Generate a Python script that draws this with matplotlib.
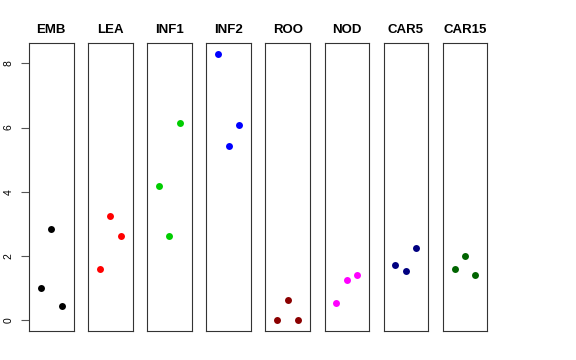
import matplotlib
matplotlib.use("Agg")
import matplotlib.pyplot as plt

plt.rcParams['font.family'] = ['Liberation Sans', 'DejaVu Sans']

groups = ['EMB', 'LEA', 'INF1', 'INF2', 'ROO', 'NOD', 'CAR5', 'CAR15']
colors = ['black', 'red', '#00CD00', 'blue', '#8B0000', 'magenta', '#000080', '#006400']
values = [
    [1.01, 2.84, 0.45],
    [1.59, 3.25, 2.61],
    [4.19, 2.64, 6.15],
    [8.30, 5.42, 6.08],
    [0.00, 0.62, 0.00],
    [0.54, 1.27, 1.41],
    [1.72, 1.55, 2.26],
    [1.60, 2.00, 1.42],
]
yticks = [0, 2, 4, 6, 8]

W, H = 576, 360
fig = plt.figure(figsize=(W / 100, H / 100), dpi=100)

# panel geometry in pixels (R style mfrow layout)
left0, step, pw = 29, 59.1, 44.5
top, bottom = 43, 331

ymin, ymax = -0.332, 8.632
for i, (g, c, v) in enumerate(zip(groups, colors, values)):
    x0 = left0 + i * step
    ax = fig.add_axes([x0 / W, 1 - bottom / H, pw / W, (bottom - top) / H])
    ax.plot([1, 2, 3], v, 'o', color=c, ms=5, mec='none')
    ax.set_xlim(-0.14, 4.14)
    ax.set_ylim(ymin, ymax)
    ax.set_xticks([])
    ax.set_title(g, fontsize=9.5, fontweight='bold', pad=7)
    for s in ax.spines.values():
        s.set_linewidth(0.8)
        s.set_color('#333333')
    if i == 0:
        ax.set_yticks(yticks)
        ax.tick_params(axis='y', length=6, width=0.8, color='#555555',
                       labelsize=7.5, pad=5)
        for lab in ax.get_yticklabels():
            lab.set_rotation(90)
            lab.set_va('center')
    else:
        ax.set_yticks([])

fig.savefig('out.png', dpi=100)
